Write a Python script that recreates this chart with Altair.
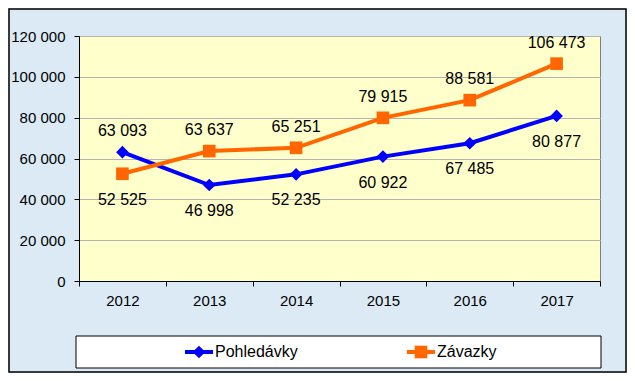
import altair as alt
import pandas as pd

years = ["2012", "2013", "2014", "2015", "2016", "2017"]
series_names = ["Pohledávky", "Závazky"]
pohledavky = [63093, 46998, 52235, 60922, 67485, 80877]
zavazky = [52525, 63637, 65251, 79915, 88581, 106473]
# label placement: 1 = above point, 0 = below
pohl_above = [1, 0, 0, 0, 0, 0]
zav_above = [0, 1, 1, 1, 1, 1]
y_ticks = [0, 20000, 40000, 60000, 80000, 100000, 120000]
colors = ["#0000FF", "#FF6600"]
shapes = ["diamond", "square"]


def fmt(v):
    return f"{v:,}".replace(",", " ")


rows = []
for s, vals, ab in [(series_names[0], pohledavky, pohl_above), (series_names[1], zavazky, zav_above)]:
    for yr, v, a in zip(years, vals, ab):
        rows.append({"year": yr, "series": s, "value": v, "label": fmt(v), "above": a})
df = pd.DataFrame(rows)

FONT = "Liberation Sans"
W, H = 521, 245
PL, PT = 71, 28

x_enc = alt.X("year:N", bandPosition=0.5,
              scale=alt.Scale(type="band", paddingInner=0, paddingOuter=0, domain=years),
              axis=alt.Axis(title=None, labelAngle=0, tickBand="extent", tickSize=5,
                            labelPadding=7, grid=False, domainColor="#000000",
                            tickColor="#000000"))
y_enc = alt.Y("value:Q",
              scale=alt.Scale(domain=[0, 120000], nice=False),
              axis=alt.Axis(title=None, values=y_ticks, tickSize=5, labelPadding=9,
                            grid=True, gridColor="#B4B4B4", domainColor="#000000",
                            tickColor="#000000",
                            labelExpr="replace(format(datum.value, ','), ',', ' ')"))
color_enc = alt.Color("series:N", scale=alt.Scale(domain=series_names, range=colors), legend=None)
shape_enc = alt.Shape("series:N", scale=alt.Scale(domain=series_names, range=shapes), legend=None)

base = alt.Chart(df)

lines = base.mark_line(strokeWidth=4).encode(x=x_enc, y=y_enc, color=color_enc)
points = base.mark_point(filled=True, size=160, opacity=1).encode(
    x=x_enc, y=y_enc, color=color_enc, shape=shape_enc)
labels_above = base.transform_filter("datum.above == 1").mark_text(
    font=FONT, fontSize=16, dy=-21, color="#000000").encode(x=x_enc, y=y_enc, text="label:N")
labels_below = base.transform_filter("datum.above == 0").mark_text(
    font=FONT, fontSize=16, dy=26, color="#000000").encode(x=x_enc, y=y_enc, text="label:N")

one = pd.DataFrame({"a": [0]})

frame = alt.Chart(one).mark_rect(fill=None, stroke="#000000", strokeWidth=1.5).encode(
    x=alt.value(-PL + 1), x2=alt.value(W + 27 - 1), y=alt.value(-PT + 1), y2=alt.value(H + 92 - 1))

legend_box = alt.Chart(one).mark_rect(fill="#FFFFFF", stroke="#000000", strokeWidth=1).encode(
    x=alt.value(-3), x2=alt.value(522), y=alt.value(300), y2=alt.value(332))

legend_layers = []
ly = 316
for i, (lx, sname) in enumerate([(106, series_names[0]), (328, series_names[1])]):
    legend_layers.append(alt.Chart(one).mark_rule(strokeWidth=4, color=colors[i]).encode(
        x=alt.value(lx), x2=alt.value(lx + 28), y=alt.value(ly)))
    legend_layers.append(alt.Chart(one).mark_point(filled=True, size=160, opacity=1,
                                                   shape=shapes[i], color=colors[i]).encode(
        x=alt.value(lx + 14), y=alt.value(ly)))
    legend_layers.append(alt.Chart(pd.DataFrame({"t": [sname]})).mark_text(
        font=FONT, fontSize=16, align="left", baseline="middle", color="#000000").encode(
        x=alt.value(lx + 30), y=alt.value(ly), text="t:N"))

chart = alt.layer(
    lines, points, labels_above, labels_below, frame, legend_box, *legend_layers
).properties(
    width=W, height=H,
    autosize=alt.AutoSizeParams(type="none"),
    padding={"left": PL, "top": PT, "right": 27, "bottom": 92},
    background="#DBEAF4",
).configure_view(
    fill="#FFFFCC", stroke="#808080", strokeWidth=1
).configure_axis(
    labelFont=FONT, labelFontSize=15, labelColor="#000000"
)

chart.save("out.html", embed_options={"renderer": "svg", "actions": False})
